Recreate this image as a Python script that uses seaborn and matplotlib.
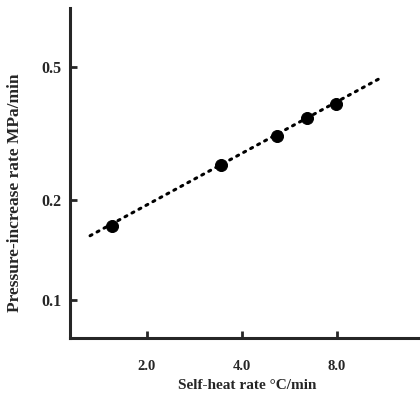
import numpy as np
import matplotlib.pyplot as plt
import seaborn as sns

self_heat = [1.55, 3.44, 5.17, 6.46, 7.94]
press_rate = [0.167, 0.254, 0.31, 0.352, 0.387]

# fitted line end points
fit_x = [1.32, 11.1]
fit_y = [0.156, 0.466]

xticks = [2, 4, 8]
xtick_labels = ['2.0', '4.0', '8.0']
yticks = [0.1, 0.2, 0.5]
ytick_labels = ['0.1', '0.2', '0.5']

sns.set_style('ticks')
plt.rcParams['font.family'] = ['Liberation Serif', 'DejaVu Serif']
plt.rcParams['font.weight'] = 'bold'

fig = plt.figure(figsize=(4.2, 3.95), dpi=100)
ax = fig.add_axes([0.1667, 0.1443, 0.833, 0.835])

sns.lineplot(x=fit_x, y=fit_y, ax=ax, color='black', linestyle=(0, (0.7, 1.9)),
             linewidth=2.2, dash_capstyle='round')
sns.scatterplot(x=self_heat, y=press_rate, ax=ax, color='black', s=75,
                edgecolor='black', zorder=3)

ax.set_xscale('log')
ax.set_yscale('log')
ax.set_xlim(1.14, 14.7)
ax.set_ylim(0.0769, 0.753)
ax.set_xticks(xticks)
ax.set_xticklabels(xtick_labels)
ax.set_yticks(yticks)
ax.set_yticklabels(ytick_labels)
ax.minorticks_off()
ax.tick_params(axis='x', direction='in', length=5, width=2, pad=16, labelsize=10.5)
ax.tick_params(axis='y', direction='in', length=5, width=2, pad=6, labelsize=11.5)

sns.despine(ax=ax)
for s in ['left', 'bottom']:
    ax.spines[s].set_linewidth(2.2)

ax.set_xlabel('Self-heat rate \u00b0C/min', fontsize=11, fontweight='bold')
ax.set_ylabel('Pressure-increase rate MPa/min', fontsize=12.5, fontweight='bold')
ax.xaxis.set_label_coords(0.506, -0.125)
ax.yaxis.set_label_coords(-0.135, 0.44)

fig.savefig('out.png', dpi=100)
